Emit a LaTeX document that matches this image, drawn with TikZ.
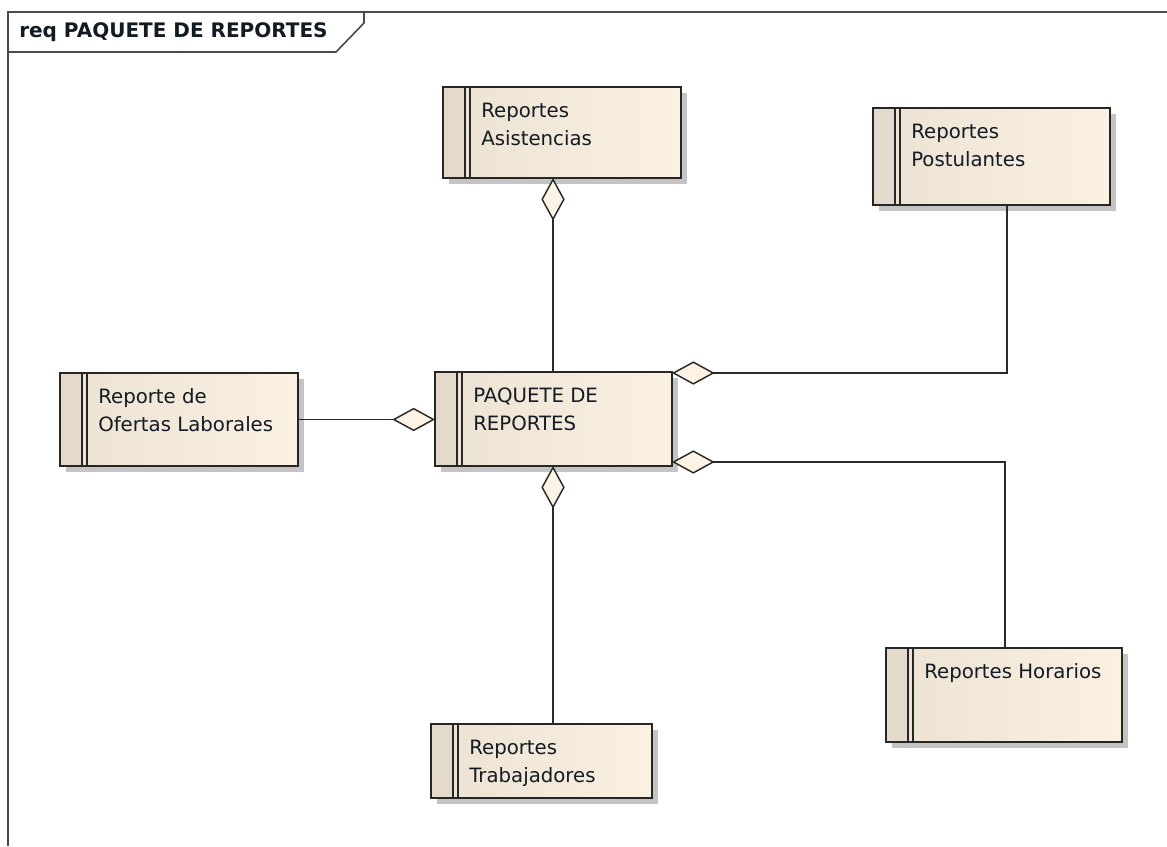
\documentclass[tikz,border=0pt]{standalone}
\usepackage{fontspec}
\setmainfont{DejaVu Sans}
\usetikzlibrary{arrows.meta,calc}

\definecolor{framec}{HTML}{4A4A4A}
\definecolor{linec}{HTML}{2A2A2A}
\definecolor{boxshadow}{HTML}{C4C4C4}
\definecolor{stripec}{HTML}{E4DACB}
\definecolor{boxL}{HTML}{ECE2D2}
\definecolor{boxM}{HTML}{F6ECDD}
\definecolor{boxR}{HTML}{FBF1E3}
\definecolor{diac}{HTML}{FDF3E4}
\definecolor{textc}{HTML}{141A24}

\tikzset{
  reqbody/.style={rectangle, inner sep=0pt, outer sep=0pt,
    left color=boxL, middle color=boxM, right color=boxR},
  boxline/.style={draw=black!85, line width=1.1pt},
  stripeline/.style={draw=black!85, line width=0.9pt},
  reqtext/.style={inner sep=0pt, align=left, text=textc,
    font=\fontsize{14.8}{21}\selectfont},
  agg/.style={draw=linec, line width=1.1pt,
    -{Diamond[length=32pt,width=17.5pt,fill=diac,line width=1.1pt]}},
}

% requirement box: name, x1, y1, x2, y2, text
\newcommand\reqbox[6]{%
  \fill[boxshadow] (#2+6,#3+6) rectangle (#4+6,#5+6);
  \node[reqbody, minimum width={(#4-#2)*0.75pt}, minimum height={(#5-#3)*0.75pt}]
    (#1) at ({(#2+#4)/2},{(#3+#5)/2}) {};
  \fill[stripec] (#1.north west) rectangle ($(#1.south west)+(22,0)$);
  \draw[stripeline] ($(#1.north west)+(22,0)$) -- ($(#1.south west)+(22,0)$);
  \draw[stripeline] ($(#1.north west)+(27,0)$) -- ($(#1.south west)+(27,0)$);
  \draw[boxline] (#1.north west) rectangle (#1.south east);
  \node[reqtext, anchor=north west] (#1-t) at ($(#1.north west)+(38,15.5)$) {#6};
}

\begin{document}
\begin{tikzpicture}[x=0.75pt,y=-0.75pt]
\useasboundingbox (0,0) rectangle (1167,846);
\fill[white] (0,0) rectangle (1167,846);

% diagram frame with its name tab
\draw[framec, line width=1.5pt] (1167,12) -- (8,12) -- (8,846);
\draw[framec, line width=1.2pt] (8,52) -- (336,52) -- (364,23) -- (364,12);
\node[anchor=base west, inner sep=0pt, text=textc,
  font=\bfseries\fontsize{15}{17}\selectfont] (title) at (19,37) {req PAQUETE DE REPORTES};

% requirement boxes
\reqbox{A}{443}{87}{681}{178}{Reportes\\Asistencias}
\reqbox{Po}{873}{108}{1110}{205}{Reportes\\Postulantes}
\reqbox{O}{60}{373}{298}{466}{Reporte de\\Ofertas Laborales}
\reqbox{P}{435}{372}{672}{466}{PAQUETE DE\\REPORTES}
\reqbox{H}{886}{648}{1122}{742}{Reportes Horarios}
\reqbox{T}{431}{724}{652}{798}{Reportes\\Trabajadores}

% aggregation connectors
\coordinate (ac) at ($(P.north)+(-0.5,0)$);
\draw[agg] (ac) -- (ac |- A.south);
\draw[agg] ($(Po.south)+(15.5,0)$) |- ($(P.north east)+(0,1)$);
\draw[agg] ($(H.north)+(1,0)$) |- ($(P.south east)+(0,-4)$);
\draw[agg] (O.east) -- (O.east -| P.west);
\coordinate (tc) at ($(T.north)+(11.5,0)$);
\draw[agg] (tc) -- (tc |- P.south);
\end{tikzpicture}
\end{document}
